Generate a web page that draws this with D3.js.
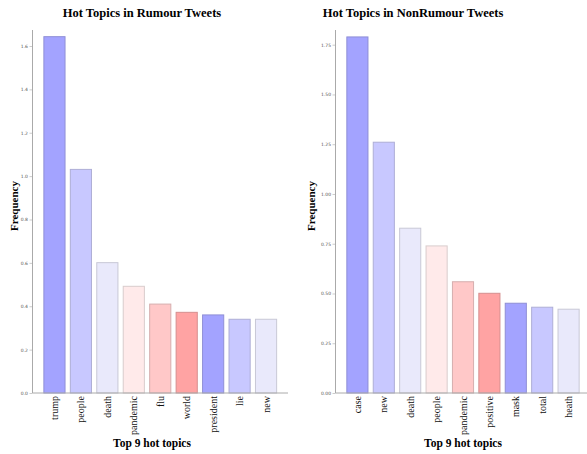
<!DOCTYPE html>
<html>
<head>
<meta charset="utf-8">
<script src="https://cdn.jsdelivr.net/npm/d3@7"></script>
<style>
  html, body { margin: 0; padding: 0; background: #fff; }
  svg { display: block; }
</style>
</head>
<body>
<svg id="chart" width="587" height="454"></svg>
<script>
// ---- data ----
const rumourTopics = ["trump", "people", "death", "pandemic", "flu", "world", "president", "lie", "new"];
const rumourValues = [1.643, 1.031, 0.601, 0.492, 0.410, 0.372, 0.360, 0.340, 0.340];
const rumourTicks = ["0.0", "0.2", "0.4", "0.6", "0.8", "1.0", "1.2", "1.4", "1.6"];

const nonRumourTopics = ["case", "new", "death", "people", "pandemic", "positive", "mask", "total", "heath"];
const nonRumourValues = [1.789, 1.260, 0.828, 0.739, 0.559, 0.501, 0.451, 0.431, 0.421];
const nonRumourTicks = ["0.00", "0.25", "0.50", "0.75", "1.00", "1.25", "1.50", "1.75"];

const barColors = ["#a3a3ff", "#c8c8ff", "#e9e9fb", "#ffeaea", "#ffc8c8", "#ffa3a3", "#a3a3ff", "#c8c8ff", "#e9e9fb"];
const barStrokes = ["#8f8fd6", "#aeaed6", "#c8c8d6", "#d9cccc", "#d6aeae", "#d68f8f", "#8f8fd6", "#aeaed6", "#c8c8d6"];

const svg = d3.select("#chart");

function panel(cfg) {
  const g = svg.append("g");
  const x = d3.scaleBand()
    .domain(cfg.topics)
    .range([cfg.x0, cfg.x1])
    .paddingInner(0.2)
    .paddingOuter(0.43);
  const y = d3.scaleLinear().domain([0, cfg.yTop]).range([cfg.y0, cfg.y1]);

  // bars
  g.selectAll("rect.bar")
    .data(cfg.values)
    .join("rect")
    .attr("class", "bar")
    .attr("x", (d, i) => x(cfg.topics[i]))
    .attr("width", x.bandwidth())
    .attr("y", d => y(d))
    .attr("height", d => y(0) - y(d))
    .attr("fill", (d, i) => barColors[i])
    .attr("stroke", (d, i) => barStrokes[i])
    .attr("stroke-width", 1);

  // y axis
  const yAxis = d3.axisLeft(y)
    .tickValues(cfg.ticks.map(Number))
    .tickFormat((d, i) => cfg.ticks[i])
    .tickSize(3)
    .tickPadding(1.5);
  const ya = g.append("g").attr("transform", `translate(${cfg.x0},0)`).call(yAxis);
  ya.select(".domain").attr("d", `M0,${cfg.y0}V${cfg.yAxisTop}`).attr("stroke", "#aaaaaa");
  ya.selectAll(".tick line").attr("stroke", "#aaaaaa").attr("stroke-width", 0.6);
  ya.selectAll(".tick text")
    .attr("font-family", "DejaVu Sans, sans-serif")
    .attr("font-size", 4.5)
    .attr("fill", "#555");

  // x axis
  const xAxis = d3.axisBottom(x).tickSize(0).tickPadding(0);
  const xa = g.append("g").attr("transform", `translate(0,${cfg.y0})`).call(xAxis);
  xa.select(".domain").attr("d", `M${cfg.x0},0H${cfg.x1}`).attr("stroke", "#aaaaaa");
  xa.selectAll(".tick text")
    .attr("font-family", "Liberation Serif, Times New Roman, serif")
    .attr("font-size", 10)
    .attr("fill", "#111")
    .attr("transform", "rotate(-90)")
    .attr("text-anchor", "end")
    .attr("x", -3)
    .attr("y", 0)
    .attr("dy", "0.35em");

  // title
  g.append("text")
    .attr("x", cfg.titleX).attr("y", 17)
    .attr("text-anchor", "middle")
    .attr("font-family", "Liberation Serif, Times New Roman, serif")
    .attr("font-weight", "bold")
    .attr("font-size", 12.5)
    .attr("fill", "#000")
    .text(cfg.title);

  // x label
  g.append("text")
    .attr("x", cfg.xLabelX).attr("y", 447)
    .attr("text-anchor", "middle")
    .attr("font-family", "Liberation Serif, Times New Roman, serif")
    .attr("font-weight", "bold")
    .attr("font-size", 11.5)
    .attr("fill", "#000")
    .text("Top 9 hot topics");

  // y label
  g.append("text")
    .attr("transform", `translate(${cfg.yLabelX},206) rotate(-90)`)
    .attr("text-anchor", "middle")
    .attr("font-family", "Liberation Serif, Times New Roman, serif")
    .attr("font-weight", "bold")
    .attr("font-size", 11)
    .attr("fill", "#000")
    .text("Frequency");
}

panel({
  topics: rumourTopics, values: rumourValues, ticks: rumourTicks,
  x0: 32.5, x1: 288, y0: 393, y1: 46, yTop: 1.6, yAxisTop: 30,
  title: "Hot Topics in Rumour Tweets", titleX: 142,
  xLabelX: 152, yLabelX: 17.5
});

panel({
  topics: nonRumourTopics, values: nonRumourValues, ticks: nonRumourTicks,
  x0: 335.5, x1: 590.5, y0: 393, y1: 44.7, yTop: 1.75, yAxisTop: 30,
  title: "Hot Topics in NonRumour Tweets", titleX: 413,
  xLabelX: 463, yLabelX: 315
});
</script>
</body>
</html>
